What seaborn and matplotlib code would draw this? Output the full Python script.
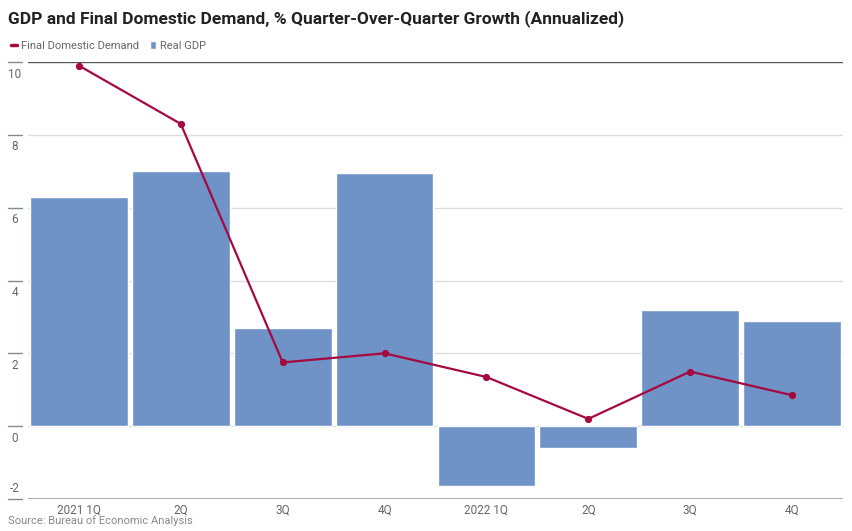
import pandas as pd
import matplotlib.pyplot as plt
import seaborn as sns
from matplotlib.lines import Line2D
from matplotlib.patches import Patch

# data
quarters = ["2021 1Q", "2021 2Q", "2021 3Q", "2021 4Q", "2022 1Q", "2022 2Q", "2022 3Q", "2022 4Q"]
tick_labels = ["2021 1Q", "2Q", "3Q", "4Q", "2022 1Q", "2Q", "3Q", "4Q"]
real_gdp = [6.3, 7.0, 2.7, 6.95, -1.65, -0.6, 3.2, 2.9]
final_demand = [9.9, 8.3, 1.75, 2.0, 1.35, 0.2, 1.5, 0.85]
y_ticks = [-2, 0, 2, 4, 6, 8, 10]

bar_color = "#6F93C6"
line_color = "#A5093F"
text_gray = "#666666"

df = pd.DataFrame({"quarter": quarters, "gdp": real_gdp, "fdd": final_demand})

sns.set_style("white")
plt.rcParams["font.family"] = ["Roboto", "DejaVu Sans"]

fig = plt.figure(figsize=(8.53, 5.31), dpi=100)
ax = fig.add_axes([28 / 853, 32 / 531, 815 / 853, 437 / 531])

sns.barplot(data=df, x="quarter", y="gdp", color=bar_color, width=0.96,
            saturation=1, ax=ax, zorder=1)
sns.pointplot(data=df, x="quarter", y="fdd", color=line_color, markers="o",
              markersize=4, linewidth=1.6, ax=ax)

ax.set_ylim(-2, 10)
ax.set_xlim(-0.5, 7.5)
ax.set_xlabel("")
ax.set_ylabel("")
ax.set_xticks(range(len(tick_labels)))
ax.set_xticklabels(tick_labels, color=text_gray, fontsize=8.5)
ax.tick_params(axis="x", length=0, pad=3)
ax.set_yticks(y_ticks)
ax.set_yticklabels([])
ax.tick_params(axis="y", length=0)

# gridlines, short tick dashes and labels
for v in y_ticks:
    if v == 10:
        ax.axhline(v, color="#555555", lw=1.0, zorder=0.5)
    elif v == -2:
        ax.axhline(v, color="#999999", lw=1.2, zorder=0.5)
    else:
        ax.axhline(v, color="#dddddd", lw=1.0, zorder=0.5)
    ax.plot([-20 / 815, -6 / 815], [v, v], transform=ax.get_yaxis_transform(),
            color="#888888", lw=1.0, clip_on=False)
    if v == -2:
        off, va = (0, 3), "bottom"
    else:
        off, va = (0, -4), "top"
    ax.annotate(str(v), xy=(-13 / 815, v), xycoords=ax.get_yaxis_transform(),
                xytext=off, textcoords="offset points", ha="center", va=va,
                fontsize=8.5, color=text_gray)

for s in ax.spines.values():
    s.set_visible(False)

fig.text(8 / 853, 1 - 19 / 531, "GDP and Final Domestic Demand, % Quarter-Over-Quarter Growth (Annualized)",
         fontsize=12.5, fontweight="bold", color="#222222", va="center")

handles = [Line2D([0], [0], color=line_color, lw=2.5),
           Patch(facecolor=bar_color)]
fig.legend(handles, ["Final Domestic Demand", "Real GDP"], loc="center left",
           bbox_to_anchor=(5 / 853, 1 - 46 / 531), ncol=2, frameon=False,
           fontsize=8, labelcolor=text_gray, handlelength=0.6, handleheight=0.7,
           handletextpad=0.3, columnspacing=1.0, borderpad=0)

fig.text(8 / 853, 1 - 521 / 531, "Source: Bureau of Economic Analysis",
         fontsize=8, color="#888888", va="center")

fig.savefig("out.png", dpi=100)
